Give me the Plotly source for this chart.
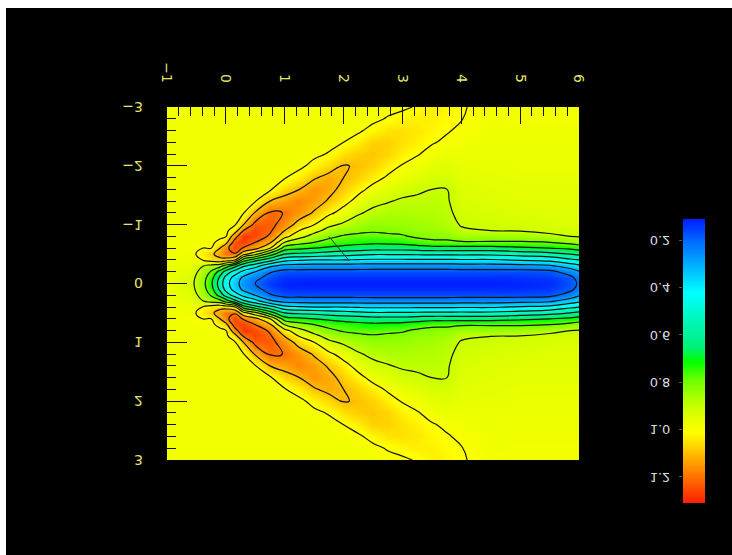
import numpy as np
import plotly.graph_objects as go

x_vals = [-1, -.6, -.4, -.25, -.1, 0, .15, .3, .5, .75, 1, 1.25, 1.5, 1.75, 2, 2.25, 2.5, 2.75, 3, 3.25, 3.5, 3.75, 4, 4.5, 5, 5.5, 5.85, 6]
y_abs = [0, .1, .2, .3, .4, .5, .6, .7, .8, .9, 1, 1.2, 1.4, 1.6, 1.8, 2, 2.2, 2.4, 2.6, 2.8, 3]

# one list per x value, reading outward from the axis y=0 (the picture is mirror-symmetric)
z_columns = [
 [.97,.97,.97,.97,.975,.98,.98,.98,.98,.98,.98,.98,.98,.98,.98,.98,.98,.98,.98,.98,.98],
 [.925,.93,.945,.96,.972,.975,.98,.98,.98,.98,.98,.98,.98,.98,.98,.98,.98,.98,.98,.98,.98],
 [.84,.85,.87,.905,1.0,1.03,1.0,.985,.98,.98,.98,.98,.98,.98,.98,.98,.98,.98,.98,.98,.98],
 [.72,.74,.79,.87,1.04,1.08,1.0,.985,.98,.98,.98,.98,.98,.98,.98,.98,.98,.98,.98,.98,.98],
 [.55,.58,.66,.84,1.07,1.14,1.10,1.02,.985,.98,.98,.98,.98,.98,.98,.98,.98,.98,.98,.98,.98],
 [.44,.47,.56,.76,1.05,1.2,1.17,1.07,.995,.98,.98,.98,.98,.98,.98,.98,.98,.98,.98,.98,.98],
 [.34,.36,.46,.64,1.01,1.19,1.26,1.24,1.16,1.05,.99,.98,.98,.98,.98,.98,.98,.98,.98,.98,.98],
 [.26,.28,.37,.52,.75,1.03,1.19,1.27,1.28,1.2,1.1,.995,.98,.98,.98,.98,.98,.98,.98,.98,.98],
 [.2,.23,.3,.44,.64,.93,1.13,1.2,1.255,1.26,1.23,1.11,.995,.98,.98,.98,.98,.98,.98,.98,.98],
 [.14,.165,.21,.32,.54,.75,1.0,1.115,1.185,1.215,1.23,1.21,1.1,.99,.98,.98,.98,.98,.98,.98,.98],
 [.115,.13,.17,.27,.43,.6,.75,.9,1.03,1.1,1.155,1.198,1.135,1.06,.995,.98,.98,.98,.98,.98,.98],
 [.11,.128,.168,.265,.41,.58,.72,.84,.93,1.0,1.06,1.15,1.17,1.1,1.03,.985,.98,.98,.98,.98,.98],
 [.11,.125,.165,.26,.4,.57,.7,.8,.865,.93,1.0,1.09,1.14,1.15,1.09,1.02,.985,.98,.98,.98,.98],
 [.11,.125,.165,.26,.4,.55,.68,.77,.82,.87,.92,1.02,1.09,1.125,1.125,1.06,1.005,.98,.98,.98,.98],
 [.11,.125,.165,.26,.4,.54,.66,.75,.79,.84,.885,.965,1.03,1.075,1.1,1.105,1.05,1.0,.98,.98,.98],
 [.11,.125,.165,.258,.39,.525,.65,.73,.78,.82,.855,.91,.97,1.025,1.07,1.092,1.075,1.03,.99,.98,.98],
 [.11,.125,.165,.255,.385,.51,.64,.72,.775,.81,.835,.88,.925,.975,1.03,1.07,1.085,1.07,1.02,.985,.98],
 [.11,.125,.165,.255,.385,.51,.64,.725,.785,.815,.84,.87,.905,.945,.99,1.03,1.065,1.07,1.045,1.005,.982],
 [.11,.125,.165,.255,.385,.51,.64,.73,.79,.825,.84,.865,.89,.925,.965,.995,1.03,1.05,1.05,1.02,.99],
 [.11,.125,.165,.255,.385,.515,.65,.755,.815,.835,.85,.87,.888,.91,.945,.975,1.005,1.03,1.04,1.03,1.005],
 [.11,.125,.165,.255,.385,.52,.66,.78,.825,.845,.855,.875,.885,.9,.93,.955,.98,1.005,1.02,1.03,1.03],
 [.11,.125,.165,.255,.385,.52,.66,.78,.83,.852,.872,.885,.893,.899,.925,.945,.965,.99,1.005,1.015,1.02],
 [.11,.125,.165,.26,.39,.52,.66,.79,.855,.89,.905,.92,.93,.94,.95,.96,.97,.98,.99,1.002,1.005],
 [.11,.125,.165,.26,.39,.52,.66,.79,.85,.9,.915,.93,.94,.95,.955,.96,.965,.97,.975,.975,.98],
 [.115,.13,.165,.27,.41,.54,.68,.79,.855,.905,.925,.94,.95,.955,.96,.965,.97,.975,.975,.98,.98],
 [.125,.14,.175,.285,.43,.565,.7,.8,.88,.92,.93,.945,.95,.955,.96,.965,.97,.975,.975,.98,.98],
 [.17,.18,.24,.35,.48,.6,.72,.83,.9,.925,.935,.945,.95,.955,.96,.965,.97,.975,.975,.98,.98],
 [.21,.23,.29,.38,.5,.62,.74,.85,.905,.93,.94,.945,.95,.955,.96,.965,.97,.975,.975,.98,.98],
]

x_tick_vals = [-1, 0, 1, 2, 3, 4, 5, 6]
x_tick_text = ["\u22121", "0", "1", "2", "3", "4", "5", "6"]
y_tick_vals = [-3, -2, -1, 0, 1, 2, 3]
y_tick_text = ["\u22123", "\u22122", "\u22121", "0", "1", "2", "3"]
bar_tick_vals = [0.2, 0.4, 0.6, 0.8, 1.0, 1.2]
bar_tick_text = ["0.2", "0.4", "0.6", "0.8", "1.0", "1.2"]
stray_x = [1.75, 2.1]
stray_y = [-.8, -.38]
scale_min, scale_max = 0.11, 1.31
colors = [[0, "rgb(0,30,255)"], [.075, "rgb(0,105,255)"], [.258, "rgb(0,255,255)"], [.45, "rgb(0,240,120)"],
          [.5, "rgb(0,255,0)"], [.567, "rgb(110,255,0)"], [.658, "rgb(200,255,0)"], [.725, "rgb(242,255,0)"],
          [.75, "rgb(255,255,0)"], [1, "rgb(255,30,0)"]]

half = np.array(z_columns).T
z = np.vstack([half[:0:-1], half])
y = [-v for v in y_abs[:0:-1]] + y_abs

W, H = 732, 555
TXT = "#e6e66e"
fig = go.Figure()
fig.add_trace(go.Contour(x=x_vals, y=y, z=z.tolist(), zmin=scale_min, zmax=scale_max, zauto=False,
    colorscale=colors, showscale=False, hoverinfo="skip",
    contours=dict(coloring="heatmap", start=0.2, end=1.2, size=0.1),
    line=dict(color="#111", width=1.2, smoothing=1.3)))
fig.add_trace(go.Scatter(x=stray_x, y=stray_y, mode="lines", line=dict(color="#333", width=1), hoverinfo="skip"))

ramp = np.linspace(scale_min, scale_max, 120).tolist()
fig.add_trace(go.Heatmap(x=[0, 1], y=ramp, z=[[v, v] for v in ramp], zmin=scale_min, zmax=scale_max,
    colorscale=colors, showscale=False, zsmooth="best", xaxis="x2", yaxis="y2", hoverinfo="skip"))

fig.update_layout(
    width=W, height=H, margin=dict(l=0, r=0, t=0, b=0, autoexpand=False), paper_bgcolor="white", plot_bgcolor="black",
    showlegend=False, font=dict(family="DejaVu Sans", size=14, color=TXT),
    xaxis=dict(domain=[167/W, 579/W], range=[-1, 6], side="top", anchor="y", showgrid=False, zeroline=False,
        tickvals=x_tick_vals, ticktext=x_tick_text, tickangle=90, ticks="inside", ticklen=17, tickcolor="#111",
        tickwidth=1, ticklabelstandoff=21, tickfont=dict(size=14, color=TXT),
        minor=dict(dtick=.2, tick0=0, ticks="inside", ticklen=9, tickcolor="#111", tickwidth=1)),
    yaxis=dict(domain=[1-460/H, 1-107/H], range=[3, -3], anchor="x", showgrid=False, zeroline=False,
        tickvals=y_tick_vals, ticktext=y_tick_text, ticks="inside", ticklen=20, tickcolor="#111",
        tickwidth=1, ticklabelstandoff=23, tickfont=dict(size=14, color=TXT),
        minor=dict(dtick=.2, tick0=0, ticks="inside", ticklen=9, tickcolor="#111", tickwidth=1)),
    xaxis2=dict(domain=[683/W, 705/W], range=[0, 1], anchor="y2", visible=False),
    yaxis2=dict(domain=[1-503/H, 1-219/H], range=[scale_max, scale_min], anchor="x2", showgrid=False, zeroline=False,
        tickvals=bar_tick_vals, ticktext=bar_tick_text, ticks="outside", ticklen=3, tickcolor="#555",
        ticklabelstandoff=6, tickfont=dict(size=13, color="#dddddd")),
    shapes=[dict(type="rect", xref="paper", yref="paper", x0=6/W, x1=1, y0=0, y1=1-8/H,
                 fillcolor="black", line=dict(width=0), layer="below")],
)

flip_js = """
document.body.style.margin = '0';
document.querySelectorAll('.ytick text, .y2tick text').forEach(function (t) {
  var b = t.getBBox(), cx = b.x + b.width / 2, cy = b.y + b.height / 2;
  var old = t.getAttribute('transform') || '';
  t.setAttribute('transform', old + ' translate(' + cx + ',' + cy + ') scale(1,-1) translate(' + (-cx) + ',' + (-cy) + ')');
});
"""
fig.write_html("out.html", post_script=flip_js, config=dict(displayModeBar=False))
